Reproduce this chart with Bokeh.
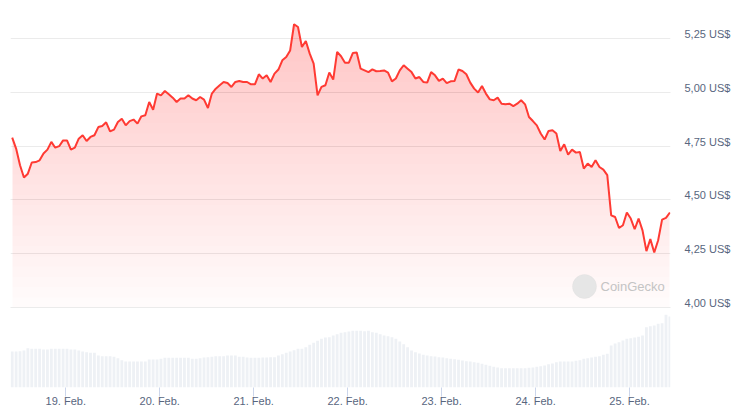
import numpy as np
import pandas as pd
from bokeh.plotting import figure
from bokeh.models import (Range1d, LinearAxis, FixedTicker, DatetimeTickFormatter,
                          CustomJSTickFormatter, Grid, Label, BoxAnnotation)
from bokeh.embed import file_html
from bokeh.resources import INLINE

# ---------------- data ----------------
start_time = "2025-02-18 10:19"

price = [
    4.790, 4.739, 4.661, 4.604, 4.622, 4.674, 4.676, 4.684, 4.716, 4.734,
    4.770, 4.743, 4.750, 4.777, 4.777, 4.734, 4.743, 4.785, 4.801, 4.774,
    4.793, 4.801, 4.839, 4.844, 4.861, 4.819, 4.827, 4.863, 4.878, 4.847,
    4.867, 4.874, 4.855, 4.889,
    4.894, 4.956, 4.920, 4.995, 4.987, 5.007, 4.992, 4.976, 4.956, 4.972,
    4.972, 4.987, 4.972, 4.964, 4.979, 4.967, 4.928, 4.995, 5.018, 5.034,
    5.049, 5.044, 5.026, 5.049, 5.054, 5.049, 5.049, 5.038, 5.038, 5.085,
    5.065, 5.080, 5.049,
    5.088, 5.107, 5.150, 5.165, 5.196, 5.318, 5.305, 5.212, 5.240, 5.181,
    5.135, 4.987, 5.026, 5.034, 5.093, 5.060, 5.189, 5.169, 5.139, 5.139,
    5.184, 5.186, 5.111, 5.103, 5.095, 5.108, 5.099, 5.100, 5.103, 5.093,
    5.052, 5.065, 5.103,
    5.127, 5.111, 5.095, 5.065, 5.072, 5.049, 5.046, 5.095, 5.080, 5.054,
    5.065, 5.044, 5.052, 5.054, 5.107, 5.100, 5.085, 5.046, 5.018, 5.000,
    5.030, 4.995, 4.968, 4.964, 4.976, 4.948, 4.945, 4.948, 4.937, 4.948,
    4.964, 4.945, 4.886, 4.867,
    4.847, 4.809, 4.781, 4.821, 4.824, 4.809, 4.728, 4.759, 4.711, 4.734,
    4.720, 4.723, 4.646, 4.669, 4.653, 4.684, 4.653, 4.641, 4.615, 4.428,
    4.420, 4.369, 4.382, 4.441, 4.413, 4.363, 4.413, 4.358, 4.261, 4.317,
    4.255, 4.312, 4.408, 4.416, 4.441,
]

volume = [
    108, 108, 109, 111,
    118, 116, 116, 116, 114, 114, 116, 116, 116, 116, 116, 114,
    114, 111, 108, 106, 104, 104,
    96, 94, 94, 94, 92,
    88, 82, 78, 78, 78, 78, 78, 78,
    84, 84, 84, 86,
    89, 89, 89, 89, 89, 89, 89, 86, 86, 88,
    90, 91, 92, 94, 94, 94, 96, 96, 96, 92, 92, 90,
    89, 89, 89, 90, 90, 91, 91,
    96, 100, 104, 108, 112, 116, 116,
    121, 128, 134, 140, 146, 150, 151,
    156, 160, 164, 166, 168,
    170, 170, 170, 169, 170,
    166, 164, 160, 156, 154, 151,
    146, 138, 130, 121,
    111, 106, 102, 98, 96, 94, 93,
    91, 90, 88, 86, 85, 83, 81, 79, 78, 76,
    74, 71, 68, 65, 62, 60,
    58, 58, 58, 58, 58, 58, 58, 59, 60,
    62, 64, 66, 70, 72, 76,
    78, 78, 78, 78, 80, 82,
    86, 88, 90, 92, 94, 98, 101,
    126, 132, 136,
    141, 146, 148, 150, 152, 156,
    181, 184, 186, 191,
    193, 218, 213,
]

price_ticks = [4.00, 4.25, 4.50, 4.75, 5.00, 5.25]
day_ticks = ["2025-02-19", "2025-02-20", "2025-02-21", "2025-02-22",
             "2025-02-23", "2025-02-24", "2025-02-25"]

# ---------------- build ----------------
times = pd.date_range(start_time, periods=len(price), freq="h")
price_arr = np.array(price)
n = len(price)

Y0, Y1 = 3.626, 5.382
p = figure(
    x_axis_type="datetime",
    frame_width=660, frame_height=377,
    x_range=Range1d(pd.Timestamp("2025-02-18 09:53"), pd.Timestamp("2025-02-25 10:28")),
    y_range=Range1d(Y0, Y1),
    y_axis_location=None,
    output_backend="svg", toolbar_location=None,
    min_border_left=10, min_border_top=10, min_border_right=0, min_border_bottom=0,
    background_fill_color="white", border_fill_color="white",
)
p.outline_line_color = None
p.xgrid.visible = False

shift = 4.5 / 214.8
p.extra_y_ranges = {
    "vol": Range1d(0, 1131),
    "lab": Range1d(Y0 - shift, Y1 - shift),
}

# horizontal grid
grid = Grid(dimension=1, ticker=FixedTicker(ticks=price_ticks),
            grid_line_color="#ebebeb", grid_line_width=1)
p.add_layout(grid)

# volume bars
p.vbar(x=times, top=volume, width=0.72 * 3600 * 1000, bottom=0,
       y_range_name="vol", fill_color="#eef1f5", line_color=None)

# gradient area (stacked translucent layers)
n_layers = 30
max_alpha = 0.20
layer_alpha = 1 - (1 - max_alpha) ** (1 / n_layers)
for lo in np.linspace(3.95, Y1, n_layers, endpoint=False):
    lo_c = max(lo, 4.0)
    p.varea(x=times, y1=np.full(n, lo_c), y2=np.maximum(price_arr, lo_c),
            fill_color="#ff3a33", fill_alpha=layer_alpha)

# price line
p.line(times, price, line_color="#ff3a33", line_width=2)

# right price axis
yax = LinearAxis(y_range_name="lab", ticker=FixedTicker(ticks=price_ticks),
                 formatter=CustomJSTickFormatter(
                     code="return tick.toFixed(2).replace('.', ',') + ' US$'"))
yax.axis_line_color = None
yax.major_tick_line_color = None
yax.minor_tick_line_color = None
yax.major_tick_out = 0
yax.major_tick_in = 0
yax.major_label_standoff = 14
yax.major_label_text_font = "Liberation Sans"
yax.major_label_text_font_size = "11px"
yax.major_label_text_color = "#58667e"
p.add_layout(yax, "right")

# bottom date axis
xax = p.xaxis[0]
xax.ticker = FixedTicker(ticks=[pd.Timestamp(d).value // 10**6 for d in day_ticks])
fmt = "%d. %b."
xax.formatter = DatetimeTickFormatter(
    milliseconds=fmt, seconds=fmt, minsec=fmt, minutes=fmt, hourmin=fmt,
    hours=fmt, days=fmt, months=fmt, years=fmt)
xax.axis_line_color = None
xax.major_tick_line_color = "#ccd6eb"
xax.major_tick_out = 9
xax.major_tick_in = 0
xax.minor_tick_line_color = None
xax.major_label_standoff = -2
xax.major_label_text_font = "Liberation Sans"
xax.major_label_text_font_size = "11px"
xax.major_label_text_color = "#58667e"

# watermark
p.add_layout(BoxAnnotation(left=562, right=586, bottom=89, top=113,
                           left_units="screen", right_units="screen",
                           bottom_units="screen", top_units="screen",
                           border_radius=12, fill_color="#e6e6e6", fill_alpha=1.0,
                           line_color="#dadada", line_width=1))
p.add_layout(Label(x=590, y=101, x_units="screen", y_units="screen",
                   text="CoinGecko", text_font="Liberation Sans",
                   text_font_size="13px", text_color="#c4c4c4",
                   text_baseline="middle", text_align="left"))

open("out.html", "w").write(file_html(p, INLINE))
